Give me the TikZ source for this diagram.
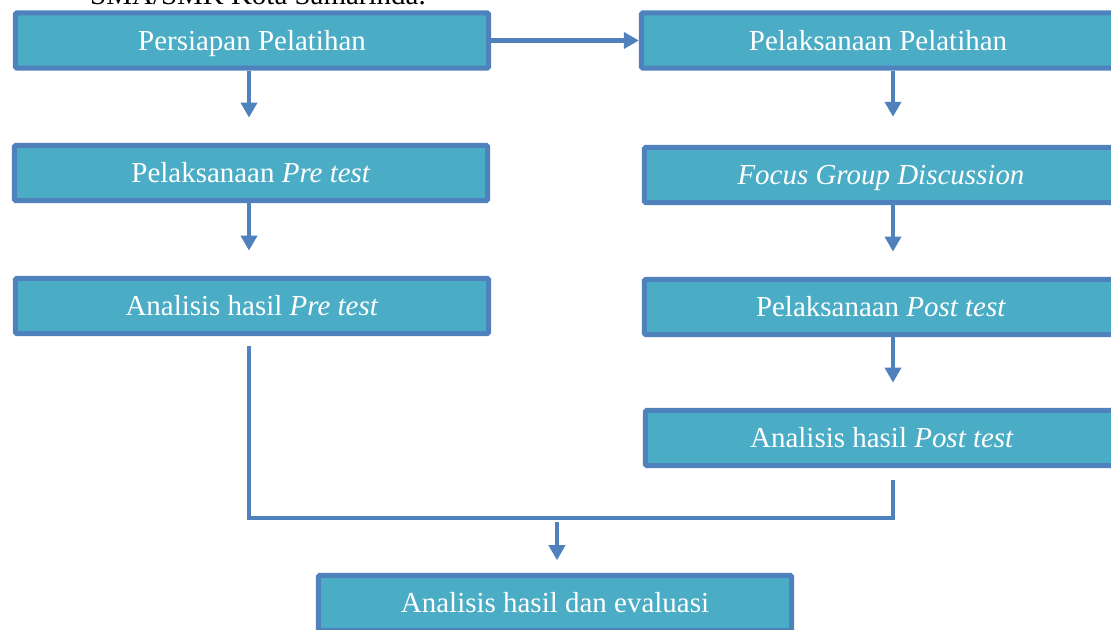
\documentclass[tikz,border=0pt]{standalone}
\usepackage{fontspec}
\setmainfont{Liberation Serif}
\usepackage{tikz}
\usetikzlibrary{arrows.meta}
\definecolor{boxfill}{HTML}{4BACC6}
\definecolor{boxline}{HTML}{4F81BD}
\tikzstyle{stepbox} = [draw=boxline, fill=boxfill, line width=3.5pt,
    rectangle, rounded corners=1pt, minimum width=11.83cm, minimum height=1.38cm,
    inner sep=0pt, text height=18pt, text depth=4pt,
    text=white, font=\fontsize{20.6}{24}\selectfont]
\tikzstyle{link} = [draw=boxline, line width=2.85pt]
\tikzstyle{arrowline} = [link, -{Triangle[length=10.7pt,width=11.4pt]}]

\begin{document}
\begin{tikzpicture}[x=0.025cm, y=-0.025cm]
\useasboundingbox (0,0) rectangle (1111,630);
\clip (0,0) rectangle (1111,630);
\node[anchor=base, font=\fontsize{20.6}{24}\selectfont] (caption) at (258,5) {SMA/SMK Kota Samarinda.};
% left column
\node[stepbox] (persiapan) at (252,40.5) {Persiapan Pelatihan};
\node[stepbox] (pretest) at (251,173) {Pelaksanaan \textit{Pre test}};
\node[stepbox] (hasilpre) at (252,306) {Analisis hasil \textit{Pre test}};
% right column
\node[stepbox] (pelaksanaan) at (878,40.5) {Pelaksanaan Pelatihan};
\node[stepbox] (fgd) at (881,175) {\textit{Focus Group Discussion}};
\node[stepbox] (posttest) at (881,307) {Pelaksanaan \textit{Post test}};
\node[stepbox] (hasilpost) at (882,438) {Analisis hasil \textit{Post test}};
% bottom
\node[stepbox] (evaluasi) at (555,603) {Analisis hasil dan evaluasi};

\coordinate (lx) at (249,0);
\coordinate (rx) at (893,0);
\coordinate (merge) at (557,518);

\draw[arrowline] (persiapan.east) -- (pelaksanaan.west);
\draw[arrowline, shorten >=18pt] (persiapan.south -| lx) -- (pretest.north -| lx);
\draw[arrowline, shorten >=18pt] (pretest.south -| lx) -- (hasilpre.north -| lx);
\draw[arrowline, shorten >=20pt] (pelaksanaan.south -| rx) -- (fgd.north -| rx);
\draw[arrowline, shorten >=18pt] (fgd.south -| rx) -- (posttest.north -| rx);
\draw[arrowline, shorten >=18pt] (posttest.south -| rx) -- (hasilpost.north -| rx);
\draw[link, shorten <=7pt, shorten >=8.5pt] (hasilpre.south -| lx) -- (merge -| lx)
    -- (merge -| rx) -- (hasilpost.south -| rx);
\draw[arrowline, shorten <=3pt, shorten >=9pt] (merge) -- (evaluasi.north -| merge);
\end{tikzpicture}
\end{document}
